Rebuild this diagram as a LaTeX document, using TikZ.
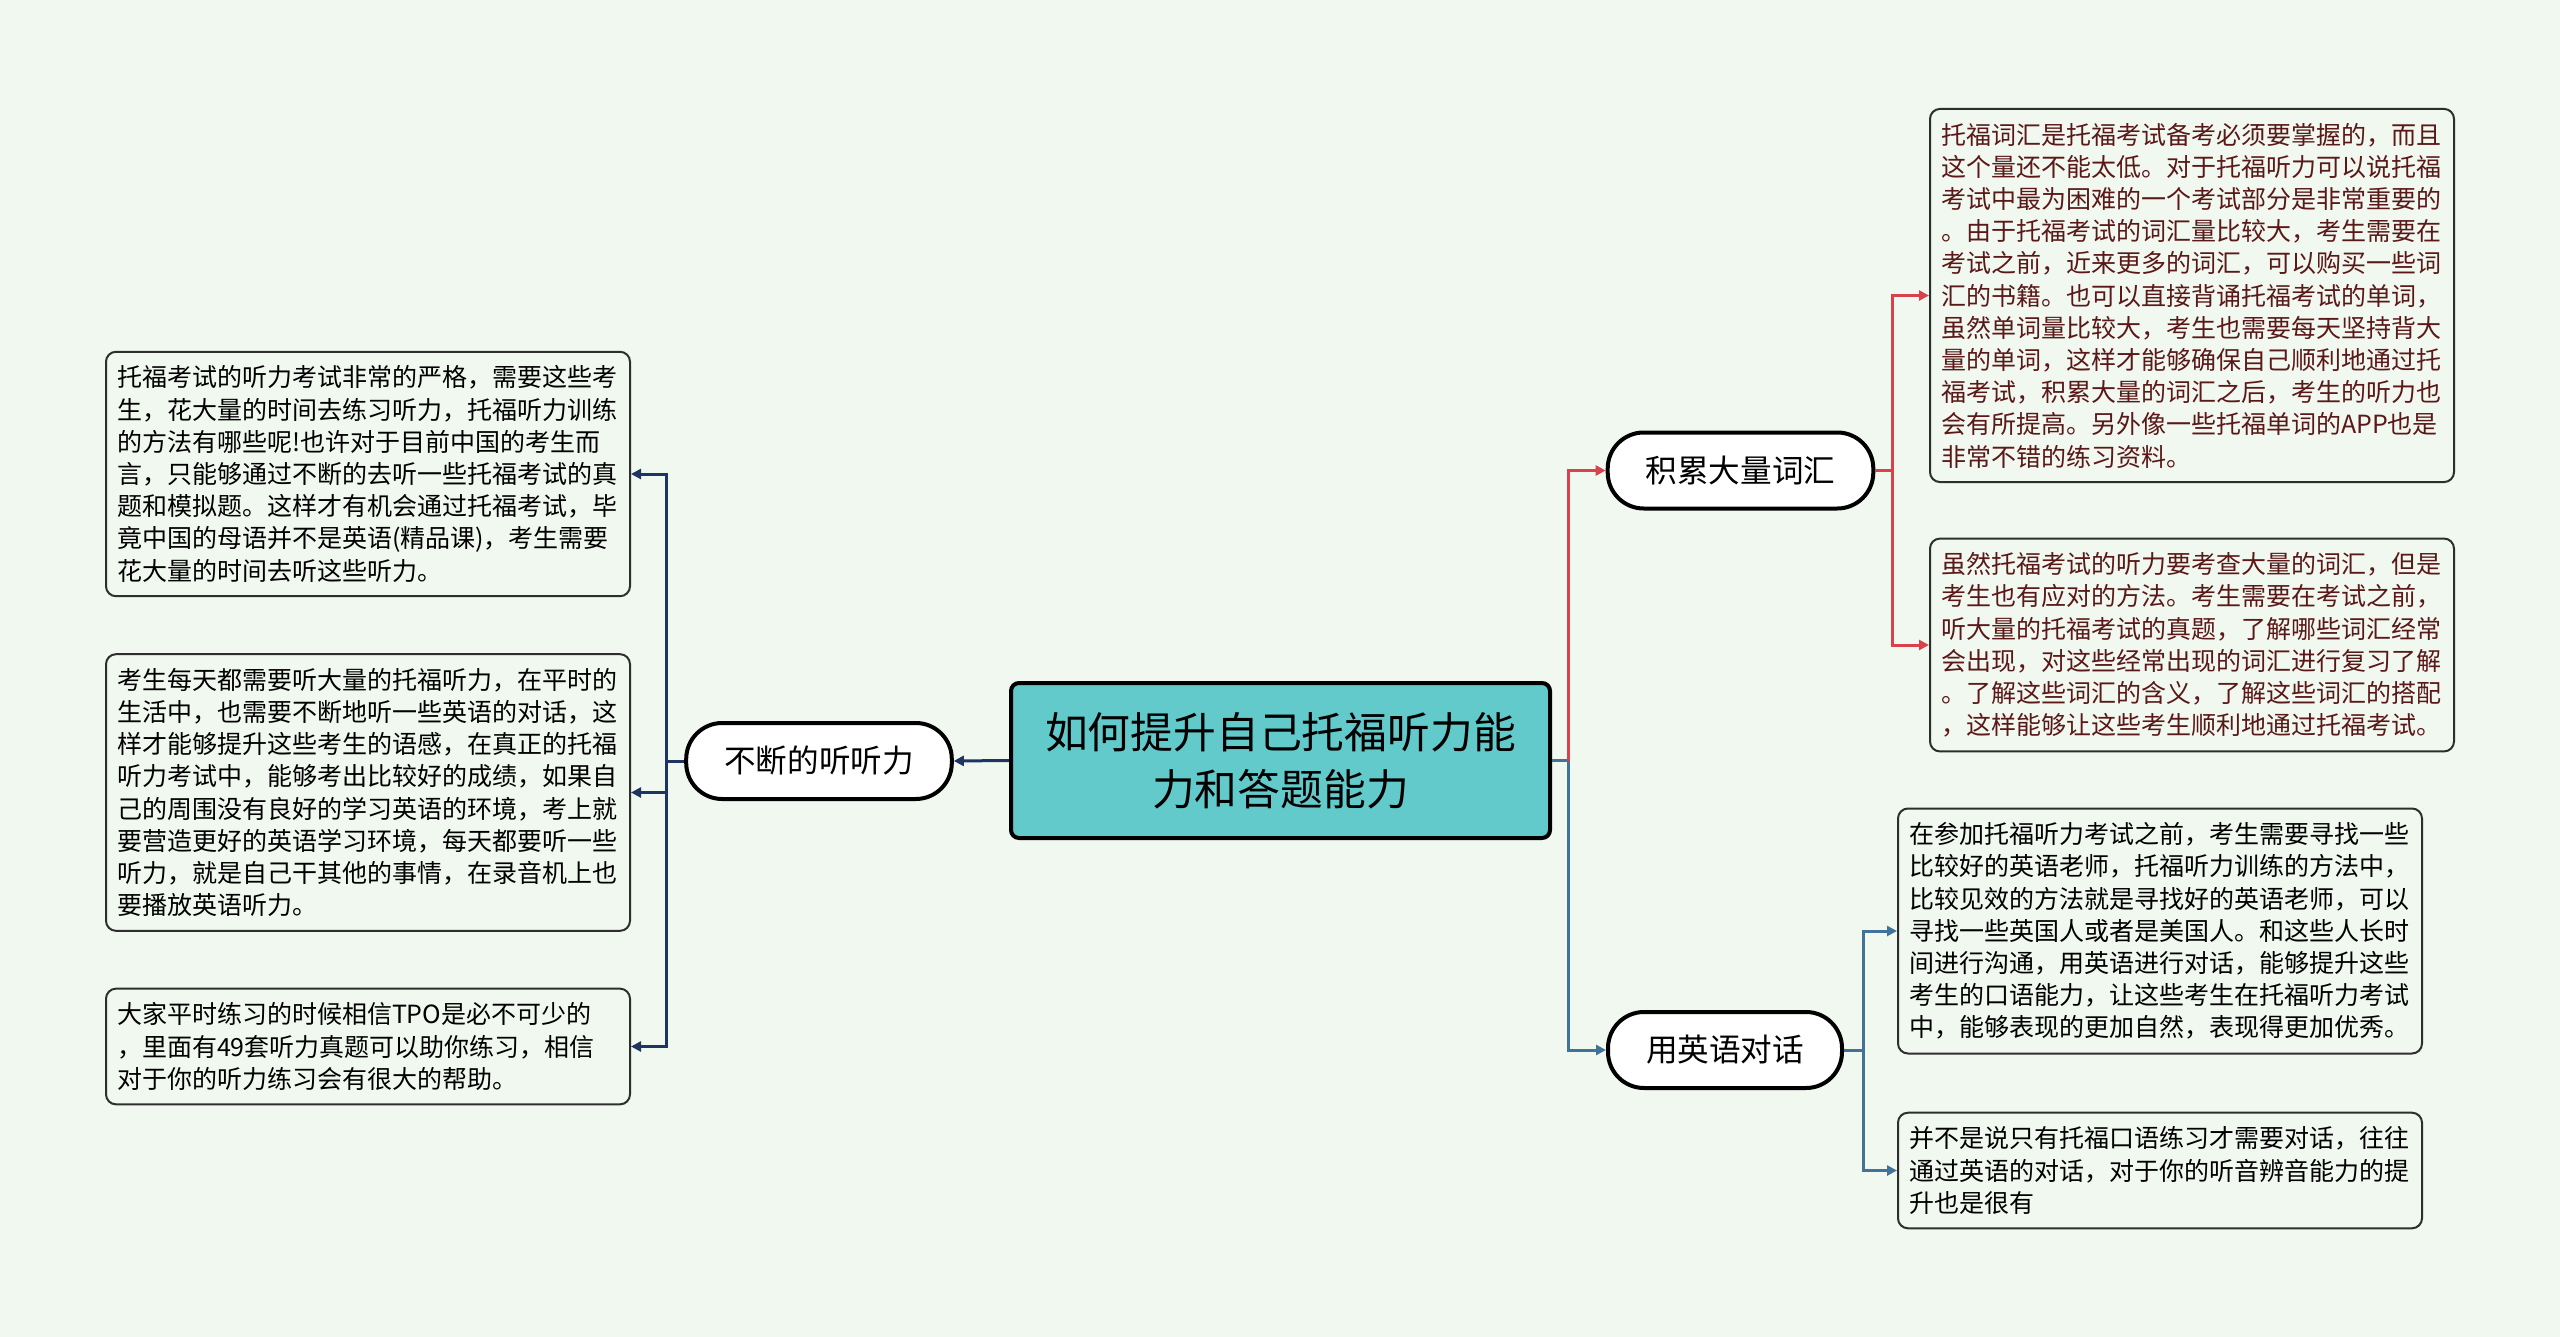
\documentclass[tikz,border=0pt]{standalone}
\usepackage{fontspec}
\setmainfont{Noto Sans CJK SC}
\usetikzlibrary{arrows.meta}
\definecolor{bgcol}{HTML}{F0F8EF}
\definecolor{boxline}{HTML}{2E2E2E}
\definecolor{rootfill}{HTML}{62CACB}
\definecolor{navyline}{HTML}{1F3561}
\definecolor{redline}{HTML}{D8424C}
\definecolor{blueline}{HTML}{41729A}
\definecolor{redtext}{HTML}{5A1818}

\begin{document}
\begin{tikzpicture}[x=0.5pt, y=-0.5pt,
  every node/.style={font=\fontsize{12.5}{16.1}\selectfont},
  note/.style={draw=boxline, line width=1pt, fill=bgcol, rounded corners=5pt,
    text width=251pt, align=left, inner xsep=5.5pt, inner ysep=7pt},
  topic/.style={draw=black, line width=2pt, fill=white, rounded corners=18pt,
    minimum height=38pt, inner xsep=19pt, font=\fontsize{15.8}{19}\selectfont},
  link/.style={line width=1.5pt, -{Triangle[length=5pt,width=5pt]}}]
  \fill[bgcol] (0,0) rectangle (2560,1337);
  \useasboundingbox (0,0) rectangle (2560,1337);

  \node[draw=black, line width=2pt, fill=rootfill, rounded corners=4pt,
    minimum width=269.5pt, minimum height=77.5pt, text width=236pt, align=center,
    font=\fontsize{21.4}{28.5}\selectfont] (root) at (1280.5,760.5)
    {如何提升自己托福听力能\\力和答题能力};

  \node[topic] (listen) at (819,761) {不断的听听力};
  \node[topic] (vocab) at (1740.5,470.5) {积累大量词汇};
  \node[topic] (talk) at (1725,1050) {用英语对话};

  % left notes
  \node[note] (l1) at (368,474) {托福考试的听力考试非常的严格，需要这些考\\
    生，花大量的时间去练习听力，托福听力训练\\
    的方法有哪些呢!也许对于目前中国的考生而\\
    言，只能够通过不断的去听一些托福考试的真\\
    题和模拟题。这样才有机会通过托福考试，毕\\
    竟中国的母语并不是英语(精品课)，考生需要\\
    花大量的时间去听这些听力。};
  \node[note] (l2) at (368,792.5) {考生每天都需要听大量的托福听力，在平时的\\
    生活中，也需要不断地听一些英语的对话，这\\
    样才能够提升这些考生的语感，在真正的托福\\
    听力考试中，能够考出比较好的成绩，如果自\\
    己的周围没有良好的学习英语的环境，考上就\\
    要营造更好的英语学习环境，每天都要听一些\\
    听力，就是自己干其他的事情，在录音机上也\\
    要播放英语听力。};
  \node[note] (l3) at (368,1046.5) {大家平时练习的时候相信TPO是必不可少的\\
    ，里面有49套听力真题可以助你练习，相信\\
    对于你的听力练习会有很大的帮助。};

  % right notes
  \node[note, text=redtext] (r1) at (2192,295.5) {托福词汇是托福考试备考必须要掌握的，而且\\
    这个量还不能太低。对于托福听力可以说托福\\
    考试中最为困难的一个考试部分是非常重要的\\
    。由于托福考试的词汇量比较大，考生需要在\\
    考试之前，近来更多的词汇，可以购买一些词\\
    汇的书籍。也可以直接背诵托福考试的单词，\\
    虽然单词量比较大，考生也需要每天坚持背大\\
    量的单词，这样才能够确保自己顺利地通过托\\
    福考试，积累大量的词汇之后，考生的听力也\\
    会有所提高。另外像一些托福单词的APP也是\\
    非常不错的练习资料。};
  \node[note, text=redtext] (r2) at (2192,645) {虽然托福考试的听力要考查大量的词汇，但是\\
    考生也有应对的方法。考生需要在考试之前，\\
    听大量的托福考试的真题，了解哪些词汇经常\\
    会出现，对这些经常出现的词汇进行复习了解\\
    。了解这些词汇的含义，了解这些词汇的搭配\\
    ，这样能够让这些考生顺利地通过托福考试。};
  \node[note] (r3) at (2160,931) {在参加托福听力考试之前，考生需要寻找一些\\
    比较好的英语老师，托福听力训练的方法中，\\
    比较见效的方法就是寻找好的英语老师，可以\\
    寻找一些英国人或者是美国人。和这些人长时\\
    间进行沟通，用英语进行对话，能够提升这些\\
    考生的口语能力，让这些考生在托福听力考试\\
    中，能够表现的更加自然，表现得更加优秀。};
  \node[note] (r4) at (2160,1170.5) {并不是说只有托福口语练习才需要对话，往往\\
    通过英语的对话，对于你的听音辨音能力的提\\
    升也是很有};

  \coordinate (jl) at (666,761);
  \coordinate (jr) at (1568,760.5);
  \coordinate (jv) at (1892,470.5);
  \coordinate (jt) at (1863,1050);

  \draw[link, navyline] (root.west) -- (listen.east);
  \draw[line width=1.5pt, navyline] (listen.west) -- (jl);
  \foreach \b in {l1,l2,l3}
    \draw[link, navyline] (jl) |- (\b.east);

  \draw[line width=1.5pt, blueline] (root.east) -- (jr);
  \draw[link, redline] (jr) |- (vocab.west);
  \draw[link, blueline] (jr) |- (talk.west);

  \draw[line width=1.5pt, redline] (vocab.east) -- (jv);
  \foreach \b in {r1,r2}
    \draw[link, redline] (jv) |- (\b.west);
  \draw[line width=1.5pt, blueline] (talk.east) -- (jt);
  \foreach \b in {r3,r4}
    \draw[link, blueline] (jt) |- (\b.west);
\end{tikzpicture}
\end{document}
